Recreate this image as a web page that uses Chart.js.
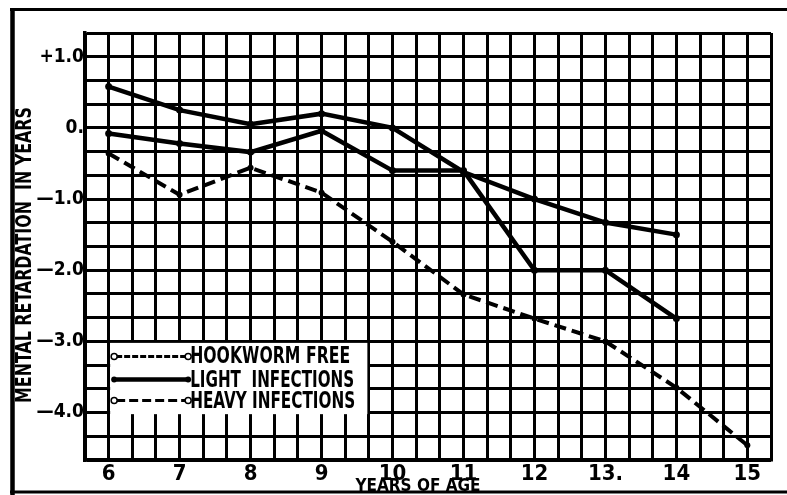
<!DOCTYPE html>
<html>
<head>
<meta charset="utf-8">
<script src="https://cdn.jsdelivr.net/npm/chart.js@4/dist/chart.umd.min.js"></script>
<style>
  html, body { margin: 0; padding: 0; background: #ffffff; }
  #wrap { width: 787px; height: 495px; position: relative; }
  canvas { display: block; }
</style>
</head>
<body>
<div id="wrap"><canvas id="c" width="787" height="495"></canvas></div>
<script>
// ---- data ----
const ages = [6, 7, 8, 9, 10, 11, 12, 13, 14, 15];
const hookwormFree    = [0.58, 0.25, 0.05, 0.20, 0.00, -0.62, -1.00, -1.33, -1.50, null];
const lightInfections = [-0.08, -0.22, -0.34, -0.04, -0.60, -0.60, -2.00, -2.00, -2.68, null];
const heavyInfections = [-0.36, -0.94, -0.56, -0.91, -1.60, -2.34, -2.68, -3.00, -3.65, -4.46];

const seriesNames = ['HOOKWORM FREE', 'LIGHT  INFECTIONS', 'HEAVY INFECTIONS'];
const xTickLabels = ['6', '7', '8', '9', '10', '11', '12', '13.', '14', '15'];
const yTickValues = [1, 0, -1, -2, -3, -4];
const yTickLabels = ['+1.0', '0.', '\u20141.0', '\u20142.0', '\u20143.0', '\u20144.0'];
const xTitle = 'YEARS OF AGE';
const yTitle = 'MENTAL RETARDATION  IN YEARS';

const FONT = "'Liberation Sans Narrow', 'DejaVu Sans Condensed', 'Roboto', sans-serif";

function pts(arr) {
  return ages.map((a, i) => ({ x: a, y: arr[i] })).filter(p => p.y !== null);
}

function thirds(lo, hi) {
  const out = [];
  for (let k = Math.round(lo * 3); k <= Math.round(hi * 3); k++) out.push({ value: k / 3 });
  return out;
}

const decor = {
  id: 'decor',
  afterDraw(chart) {
    const ctx = chart.ctx;
    const xs = chart.scales.x, ys = chart.scales.y;
    ctx.save();
    // outer frame
    ctx.strokeStyle = '#000';
    ctx.lineWidth = 4.5;
    ctx.beginPath(); ctx.moveTo(12.5, 8); ctx.lineTo(12.5, 495); ctx.stroke();
    ctx.lineWidth = 3;
    ctx.beginPath(); ctx.moveTo(10, 9.5); ctx.lineTo(787, 9.5); ctx.stroke();
    ctx.beginPath(); ctx.moveTo(10, 492); ctx.lineTo(787, 492); ctx.stroke();

    // axis titles
    ctx.fillStyle = '#000';
    ctx.textAlign = 'center';
    ctx.textBaseline = 'middle';
    ctx.font = 'bold 21px ' + FONT;
    ctx.save();
    ctx.translate(25.5, 255);
    ctx.rotate(-Math.PI / 2);
    ctx.fillText(yTitle, 0, 0, 296);
    ctx.restore();
    ctx.font = 'bold 17px ' + FONT;
    ctx.fillText(xTitle, 418, 487, 128);

    // legend box inside the plot
    const lx0 = xs.getPixelForValue(ages[0]) + 1.5;
    const lx1 = xs.getPixelForValue(29 / 3) - 1.5;
    const ly0 = ys.getPixelForValue(-3) + 1.5;
    const ly1 = ys.getPixelForValue(-4) + 1.6;
    ctx.fillStyle = '#fff';
    ctx.fillRect(lx0, ly0, lx1 - lx0, ly1 - ly0);
    const fr = [0.19, 0.515, 0.81];
    const styles = [
      { w: 3, dash: [6, 2], open: [true, true] },
      { w: 4.5, dash: [], open: [false, false] },
      { w: 3, dash: [9, 4], open: [true, true] }
    ];
    const sx0 = lx0 + 4, sx1 = lx0 + 78;
    for (let i = 0; i < 3; i++) {
      const y = ly0 + fr[i] * (ly1 - ly0);
      const st = styles[i];
      ctx.strokeStyle = '#000';
      ctx.lineWidth = st.w;
      ctx.setLineDash(st.dash);
      ctx.beginPath(); ctx.moveTo(sx0 + 2, y); ctx.lineTo(sx1 - 2, y); ctx.stroke();
      ctx.setLineDash([]);
      [sx0, sx1].forEach((cx, j) => {
        ctx.beginPath(); ctx.arc(cx, y, 3, 0, Math.PI * 2);
        if (st.open[j]) { ctx.fillStyle = '#fff'; ctx.fill(); ctx.lineWidth = 1.5; ctx.stroke(); }
        else { ctx.fillStyle = '#000'; ctx.fill(); }
      });
      ctx.fillStyle = '#000';
      ctx.textAlign = 'left';
      ctx.textBaseline = 'alphabetic';
      ctx.font = 'bold 23px ' + FONT;
      ctx.fillText(seriesNames[i], sx1 + 2, y + 7, [160, 164, 165][i]);
    }
    ctx.restore();
  }
};

new Chart(document.getElementById('c'), {
  type: 'line',
  data: {
    datasets: [
      { label: seriesNames[0], data: pts(hookwormFree), borderColor: '#000', backgroundColor: '#000',
        borderWidth: 4.5, pointRadius: 3.5, pointBackgroundColor: '#000', pointBorderWidth: 0, tension: 0 },
      { label: seriesNames[1], data: pts(lightInfections), borderColor: '#000', backgroundColor: '#000',
        borderWidth: 4.5, pointRadius: 3.5, pointBackgroundColor: '#000', pointBorderWidth: 0, tension: 0 },
      { label: seriesNames[2], data: pts(heavyInfections), borderColor: '#000', backgroundColor: '#000',
        borderWidth: 4, borderDash: [12, 6], pointRadius: 3, pointBackgroundColor: '#000', pointBorderWidth: 0, tension: 0 }
    ]
  },
  options: {
    responsive: false,
    animation: false,
    devicePixelRatio: 1,
    layout: { padding: { top: 33, right: 16, bottom: 0, left: 0 } },
    plugins: { legend: { display: false }, tooltip: { enabled: false } },
    scales: {
      x: {
        type: 'linear',
        min: 17 / 3, max: 46 / 3,
        afterBuildTicks: s => { s.ticks = thirds(17 / 3, 46 / 3); },
        afterFit: s => { s.height = 35; },
        grid: { color: '#000', lineWidth: 3, drawTicks: false },
        border: { color: '#000', width: 3.5 },
        ticks: {
          autoSkip: false, maxRotation: 0, padding: 1, color: '#000',
          font: { family: FONT, size: 22, weight: 'bold' },
          callback: v => {
            const i = ages.findIndex(a => Math.abs(a - v) < 1e-6);
            return i >= 0 ? xTickLabels[i] : '';
          }
        }
      },
      y: {
        type: 'linear',
        min: -14 / 3, max: 4 / 3,
        afterBuildTicks: s => { s.ticks = thirds(-14 / 3, 4 / 3); },
        afterFit: s => { s.width = 85; },
        grid: { color: '#000', lineWidth: 3, drawTicks: false },
        border: { color: '#000', width: 3.5 },
        ticks: {
          autoSkip: false, padding: 1, color: '#000',
          font: { family: FONT, size: 19, weight: 'bold' },
          callback: v => {
            const i = yTickValues.findIndex(a => Math.abs(a - v) < 1e-6);
            return i >= 0 ? yTickLabels[i] : '';
          }
        }
      }
    }
  },
  plugins: [decor]
});
</script>
</body>
</html>
